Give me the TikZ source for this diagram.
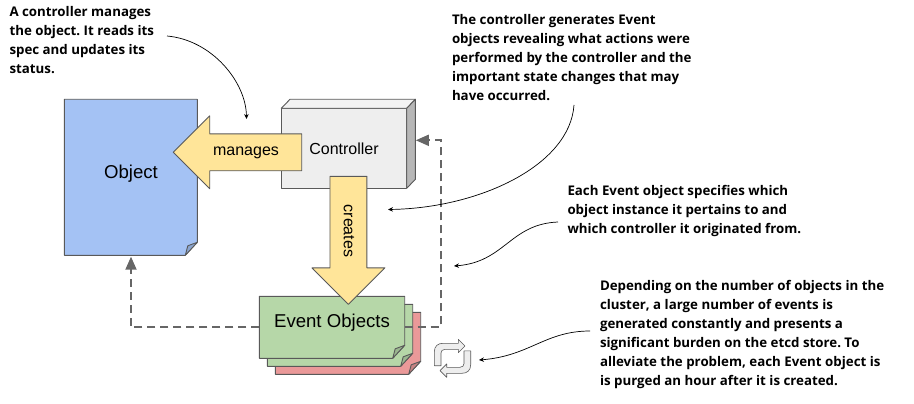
\documentclass[tikz,border=0pt]{standalone}
\usepackage{fontspec}
\setmainfont{Liberation Sans}
\newfontfamily\notefont{Open Sans}[BoldFont={Open Sans Bold}]
\usetikzlibrary{arrows.meta,calc,shapes.arrows}
\frenchspacing

\definecolor{edgegray}{HTML}{595959}
\definecolor{flowgray}{HTML}{666666}
\definecolor{objblue}{HTML}{A4C2F4}
\definecolor{foldblue}{HTML}{8BA5CF}
\definecolor{evtgreen}{HTML}{B6D7A8}
\definecolor{foldgreen}{HTML}{9AB68F}
\definecolor{evtred}{HTML}{EA9999}
\definecolor{foldred}{HTML}{C78282}
\definecolor{ctrlfill}{HTML}{EEEEEE}
\definecolor{ctrlside}{HTML}{B7B7B7}
\definecolor{arrowyellow}{HTML}{FFE599}

% sheet with a folded corner: name, centre, width, height, fill, fold
\newcommand{\foldsheet}[6]{
	\node[minimum width=#3, minimum height=#4] (#1) at (#2) {};
	\draw[shapeline, fill=#5] (#1.north west) -- (#1.north east) -- ($(#1.south east)+(0,-13)$)
		-- ($(#1.south east)+(-12,0)$) -- (#1.south west) -- cycle;
	\draw[shapeline, fill=#6] ($(#1.south east)+(0,-13)$) -- ($(#1.south east)+(-9.5,-9.5)$)
		-- ($(#1.south east)+(-12,0)$) -- cycle;
}

\tikzset{
	shapeline/.style = {draw=edgegray, line width=0.9pt, line join=round},
	blockarrow/.style = {shapeline, fill=arrowyellow, single arrow, inner sep=18pt, outer sep=0pt,
		single arrow head extend=18pt, minimum width=72pt, anchor=tip},
	flow/.style = {draw=flowgray, line width=1.8pt, dash pattern=on 8pt off 5pt,
		-{Triangle[length=13pt,width=11pt]}},
	note/.style = {-{Stealth[length=5pt,width=4.5pt]}, black, line width=0.7pt},
	notetext/.style = {anchor=north west, align=left, inner sep=0pt,
		font=\notefont\bfseries\fontsize{13.3}{19}\selectfont},
	boxtext/.style = {inner sep=0pt, font=\fontsize{16}{19}\selectfont},
	bigtext/.style = {inner sep=0pt, font=\fontsize{18.6}{22}\selectfont},
}

\begin{document}
\begin{tikzpicture}[x=1pt, y=-1pt, every node/.append style={outer sep=0pt, inner sep=0pt}]
	\useasboundingbox (0,0) rectangle (914,404);

	% object
	\foldsheet{obj}{130.8,177.3}{133pt}{156pt}{objblue}{foldblue}
	\node[bigtext] (objtext) at (131,173.5) {Object};

	% controller
	\node[shapeline, fill=ctrlfill, minimum width=125.4pt, minimum height=80pt] (ctrl) at (344,148.3) {};
	\draw[shapeline, fill=ctrlfill!70!white] (ctrl.north west) -- ++(8.7,-9) -- ++(125.4,0)
		-- (ctrl.north east) -- cycle;
	\draw[shapeline, fill=ctrlside] (ctrl.north east) -- ++(8.7,-9) -- ++(0,80) -- (ctrl.south east) -- cycle;
	\node[boxtext] (ctrltext) at (344,149) {Controller};

	% event objects
	\foldsheet{evtc}{348,343.3}{145.4pt}{62pt}{evtred}{foldred}
	\foldsheet{evtb}{340,335.3}{145.4pt}{62pt}{evtgreen}{foldgreen}
	\foldsheet{evta}{332,327.3}{145.4pt}{62pt}{evtgreen}{foldgreen}
	\node[bigtext] (evttext) at (332,322.5) {Event Objects};

	% dashed flow
	\coordinate (turn) at (440.7,140.3);
	\coordinate (ctrlback) at (415.8,140.3);
	\coordinate (objback) at (131,256.7);
	\draw[flow] (evta.east) -| (turn) -- (ctrlback);
	\draw[flow] (evta.west) -| (objback);

	% block arrows
	\node[blockarrow, shape border rotate=180, minimum height=128.4pt] (managesarrow) at (173.3,152.3) {};
	\node[boxtext] (managestext) at (246,152.5) {manages};
	\node[blockarrow, shape border rotate=270, minimum height=128pt] (createsarrow) at (348.4,304.3) {};
	\node[boxtext, rotate=-90] (createstext) at (349,231) {creates};

	% recycle icon
	\coordinate (cyc) at (452.5,358.3);
	\foreach \rot in {0,180} {
		\draw[edgegray, line width=0.6pt, fill=ctrlfill, line join=round, rotate around={\rot:(cyc)}]
			(434.3,365.7) -- (434.3,352) .. controls (434.3,346) and (438,343.3) .. (443,343.3)
			-- (458.3,343.3) -- (458.3,339.3) -- (465,346) -- (458.3,352.7) -- (458.3,349.3)
			-- (445,349.3) .. controls (442.5,349.3) and (441,351) .. (441,353) -- (441,365.7) -- cycle;
	}

	% notes
	\node[notetext] (notea) at (9.5,6.5) {A controller manages\\the object. It reads its\\spec and updates its\\status.};
	\node[notetext] (noteb) at (452,14.5) {The controller generates Event\\objects revealing what actions were\\performed by the controller and the\\important state changes that may\\have occurred.};
	\node[notetext] (notec) at (567.5,185) {Each Event object specifies which\\object instance it pertains to and\\which controller it originated from.};
	\node[notetext] (noted) at (600,280.5) {Depending on the number of objects in the\\cluster, a large number of events is\\generated constantly and presents a\\significant burden on the etcd store. To\\alleviate the problem, each Event object is\\is purged an hour after it is created.};

	\coordinate (noteafrom) at (167,36);
	\coordinate (noteato) at (246.5,119);
	\coordinate (notebfrom) at (574,105);
	\coordinate (notebto) at (388,209.5);
	\coordinate (notecfrom) at (558,222);
	\coordinate (notecto) at (454,266);
	\coordinate (notedfrom) at (590,331);
	\coordinate (notedto) at (479,360);
	\draw[note] (noteafrom) .. controls (212,40) and (246,82) .. (noteato);
	\draw[note] (notebfrom) .. controls (570,165) and (480,208) .. (notebto);
	\draw[note] (notecfrom) .. controls (510,224) and (505,262) .. (notecto);
	\draw[note] (notedfrom) .. controls (545,331) and (530,356) .. (notedto);
\end{tikzpicture}
\end{document}
